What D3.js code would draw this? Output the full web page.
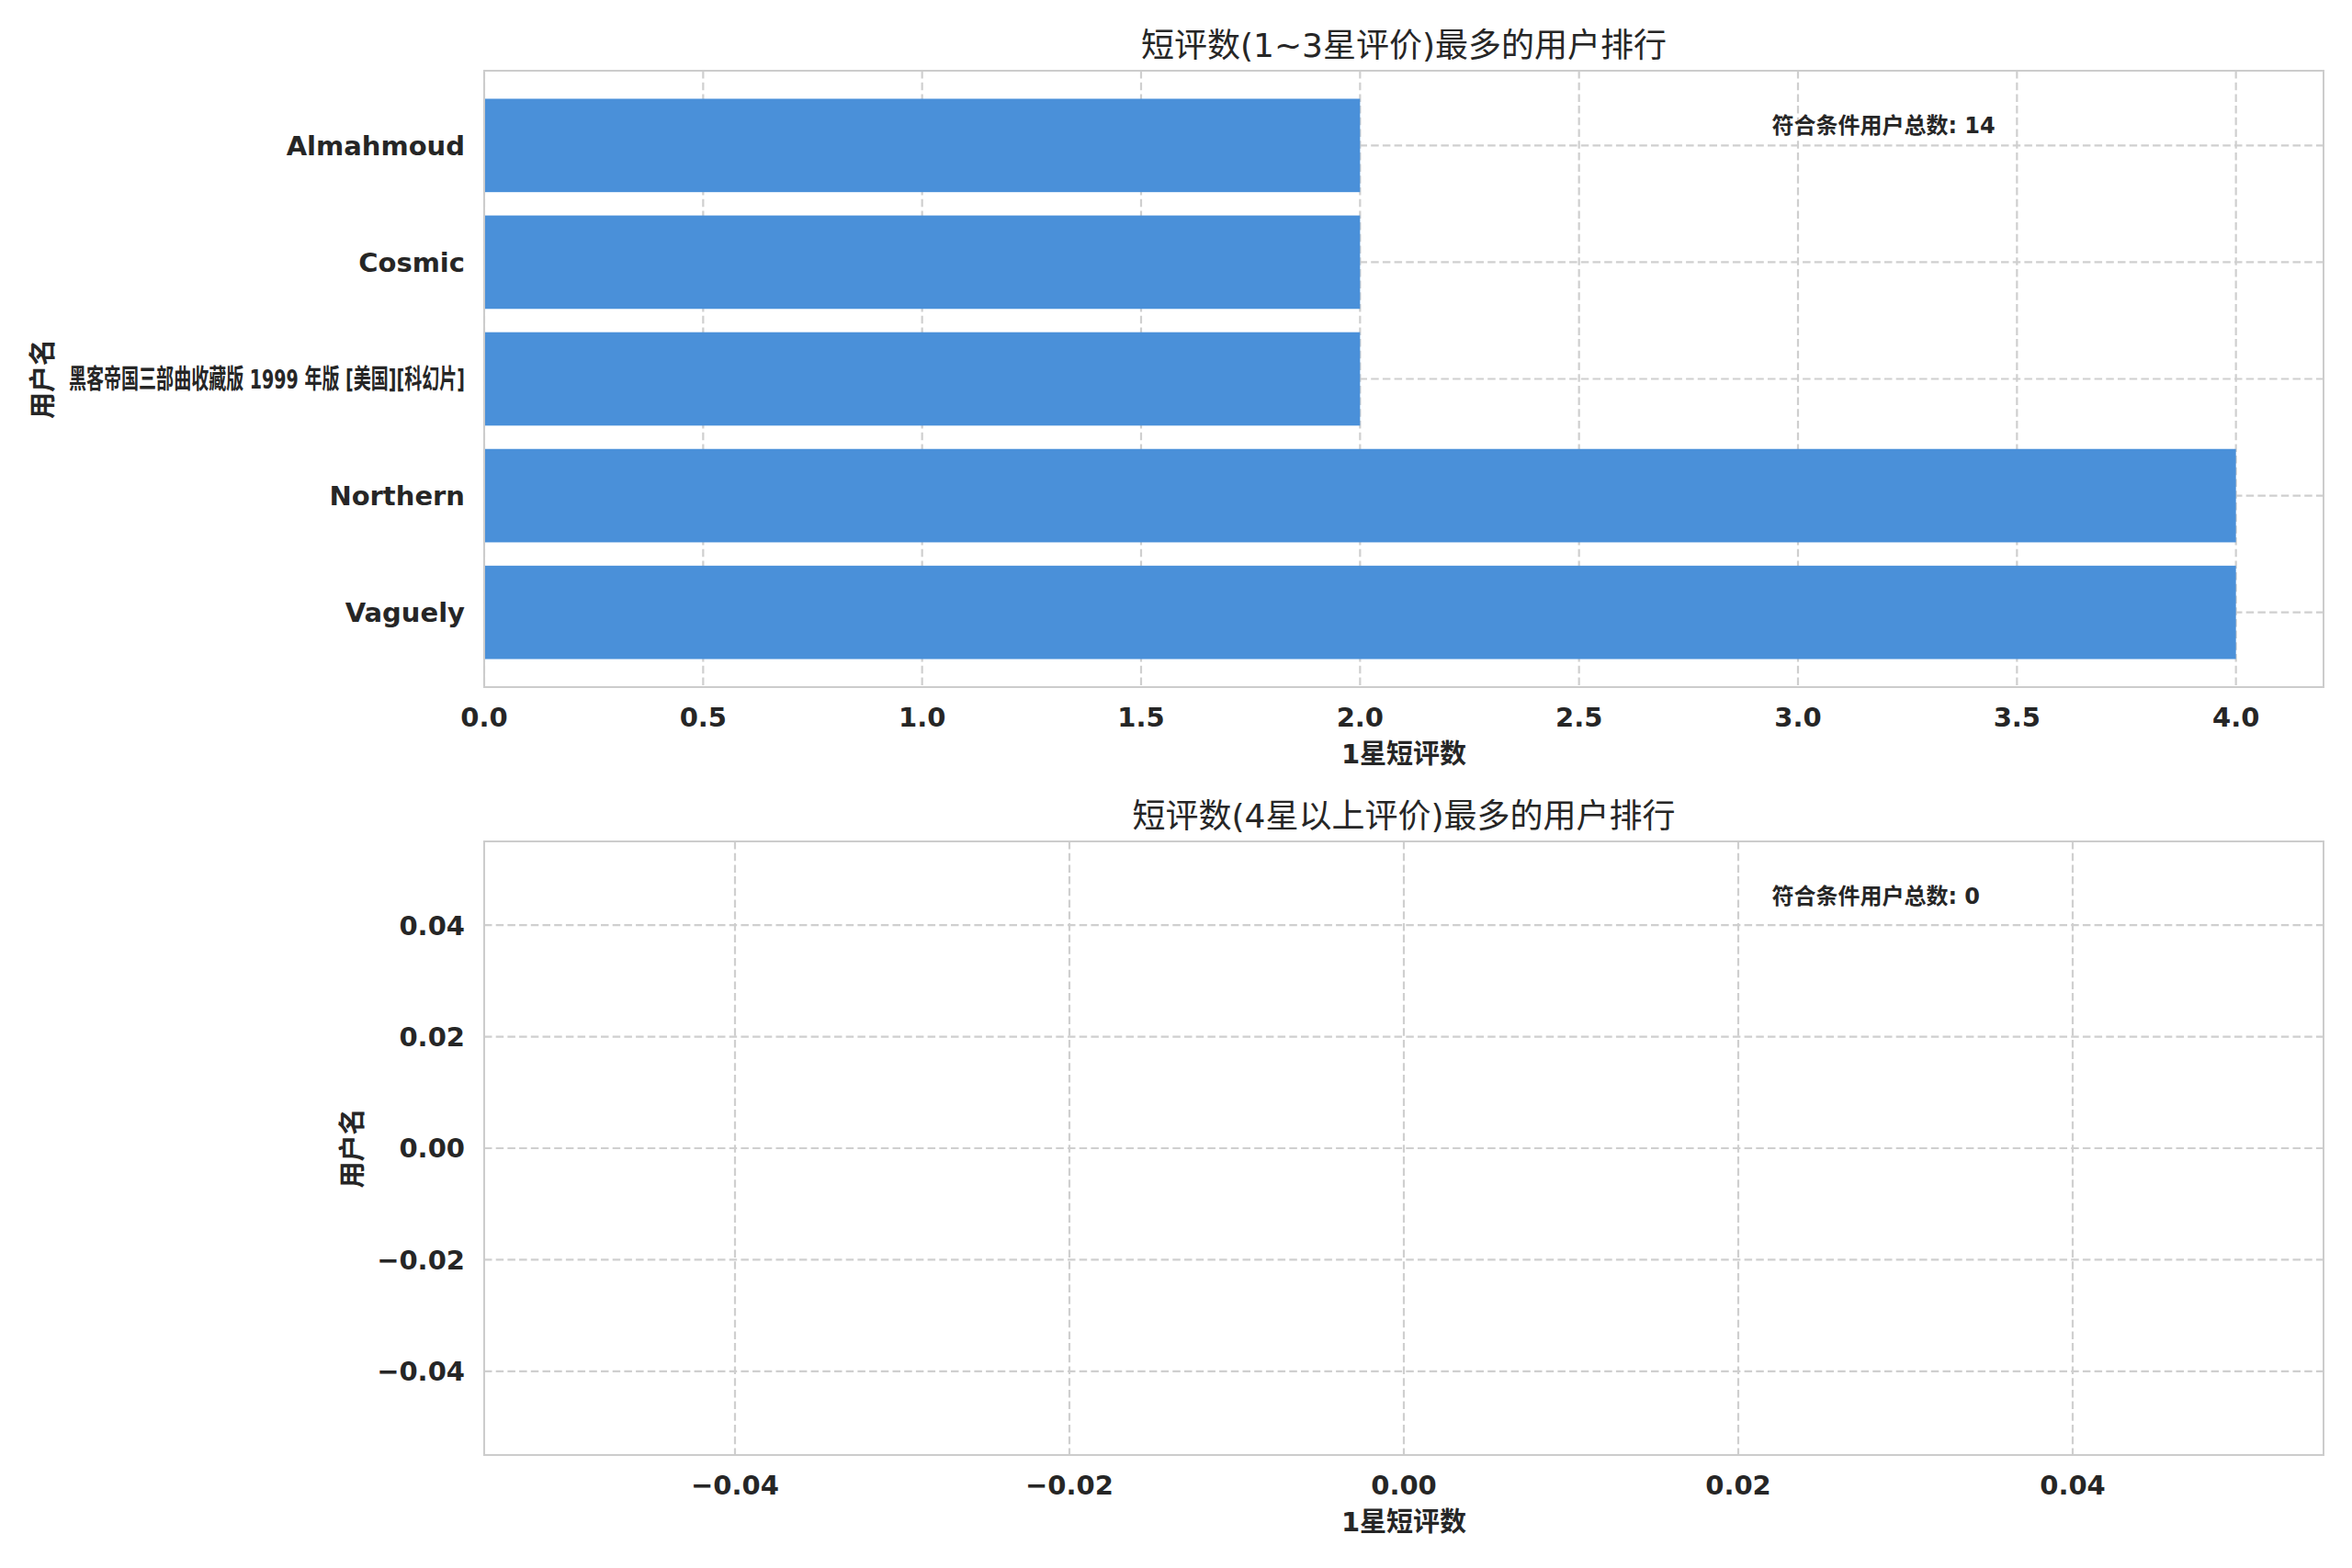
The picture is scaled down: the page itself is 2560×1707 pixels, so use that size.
<!DOCTYPE html>
<meta charset="utf-8">
<head>
    <script src="https://cdn.jsdelivr.net/npm/d3@7/dist/d3.min.js"></script>
    <style>
        body { margin: 0; background: #fff; }
        text { font-family: "DejaVu Sans", "Noto Sans CJK SC", sans-serif; fill: #262626; }
        .tick-label { font-size: 29px; font-weight: bold; }
        .axis-label { font-size: 29px; font-weight: bold; }
        .title { font-size: 36px; }
        .note { font-size: 24px; font-weight: bold; }
        .grid { stroke: #cfcfcf; stroke-width: 2.2; stroke-dasharray: 8.5,4.2; }
        .frame { fill: none; stroke: #cccccc; stroke-width: 2; }
    </style>
</head>
<body>
<script type="text/javascript">

    var width = 2560;
    var height = 1707;

    // data
    var lowCats = ["Vaguely", "Northern", "黑客帝国三部曲收藏版 1999 年版 [美国][科幻片]", "Cosmic", "Almahmoud"];
    var lowCounts = [4, 4, 2, 2, 2];
    var lowTicks = [0.0, 0.5, 1.0, 1.5, 2.0, 2.5, 3.0, 3.5, 4.0];

    var highCats = [];
    var highCounts = [];
    var emptyTicks = [-0.04, -0.02, 0.00, 0.02, 0.04];

    var titles = ["短评数(1~3星评价)最多的用户排行", "短评数(4星以上评价)最多的用户排行"];
    var xLabel = "1星短评数";
    var yLabel = "用户名";
    var noteLabel = "符合条件用户总数: ";

    var svg = d3.select("body")
        .append("svg")
        .attr("width", width)
        .attr("height", height);

    var left = 527, right = 2529;

    function panel(top, bottom, cats, counts, title, yLabelX) {
        var g = svg.append("g");
        var empty = cats.length === 0;
        var maxVal = d3.max(counts) || 0;

        var x = d3.scaleLinear()
            .domain(empty ? [-0.055, 0.055] : [0, maxVal * 1.05])
            .range([left, right]);
        var y = d3.scaleLinear()
            .domain(empty ? [-0.055, 0.055] : [-0.64, cats.length - 1 + 0.64])
            .range([bottom, top]);

        var xTicks = empty ? emptyTicks : lowTicks;
        var yTicks = empty ? emptyTicks : d3.range(cats.length);
        var xFmt = empty ? d3.format(".2f") : d3.format(".1f");
        var yFmt = empty ? d3.format(".2f") : function (i) { return cats[i]; };

        // grid
        g.selectAll(".vgrid")
            .data(xTicks)
            .enter()
            .append("line")
            .attr("class", "grid")
            .attr("x1", function (d) { return x(d); })
            .attr("x2", function (d) { return x(d); })
            .attr("y1", top)
            .attr("y2", bottom);

        g.selectAll(".hgrid")
            .data(yTicks)
            .enter()
            .append("line")
            .attr("class", "grid")
            .attr("x1", left)
            .attr("x2", right)
            .attr("y1", function (d) { return y(d); })
            .attr("y2", function (d) { return y(d); });

        // bars
        g.selectAll(".bar")
            .data(counts)
            .enter()
            .append("rect")
            .attr("x", x(0))
            .attr("y", function (d, i) { return y(i + 0.4); })
            .attr("width", function (d) { return x(d) - x(0); })
            .attr("height", function (d, i) { return y(i - 0.4) - y(i + 0.4); })
            .attr("fill", "#4a90d9");

        g.append("rect")
            .attr("class", "frame")
            .attr("x", left)
            .attr("y", top)
            .attr("width", right - left)
            .attr("height", bottom - top);

        // x tick labels
        g.selectAll(".xt")
            .data(xTicks)
            .enter()
            .append("text")
            .attr("class", "tick-label")
            .attr("x", function (d) { return x(d); })
            .attr("y", bottom + 43)
            .attr("text-anchor", "middle")
            .text(xFmt);

        // y tick labels
        g.selectAll(".yt")
            .data(yTicks)
            .enter()
            .append("text")
            .attr("class", "tick-label")
            .attr("x", left - 21)
            .attr("y", function (d) { return y(d); })
            .attr("dy", "0.36em")
            .attr("text-anchor", "end")
            .text(yFmt)
            .each(function () {
                // keep long labels inside the left margin
                var avail = left - 21 - 75;
                if (this.getComputedTextLength() > avail) {
                    d3.select(this)
                        .attr("textLength", avail)
                        .attr("lengthAdjust", "spacingAndGlyphs");
                }
            });

        g.append("text")
            .attr("class", "title")
            .attr("x", (left + right) / 2)
            .attr("y", top - 15)
            .attr("text-anchor", "middle")
            .text(title);

        g.append("text")
            .attr("class", "axis-label")
            .attr("x", (left + right) / 2)
            .attr("y", bottom + 83)
            .attr("text-anchor", "middle")
            .text(xLabel);

        g.append("text")
            .attr("class", "axis-label")
            .attr("transform", "translate(" + (yLabelX + 10) + "," + ((top + bottom) / 2) + ") rotate(-90)")
            .attr("text-anchor", "middle")
            .text(yLabel);

        g.append("text")
            .attr("class", "note")
            .attr("x", left + 0.7 * (right - left))
            .attr("y", top + 68)
            .text(noteLabel + d3.sum(counts));
    }

    panel(77, 748, lowCats, lowCounts, titles[0], 47);
    panel(916, 1584, highCats, highCounts, titles[1], 384);

</script>
</body>
</html>
